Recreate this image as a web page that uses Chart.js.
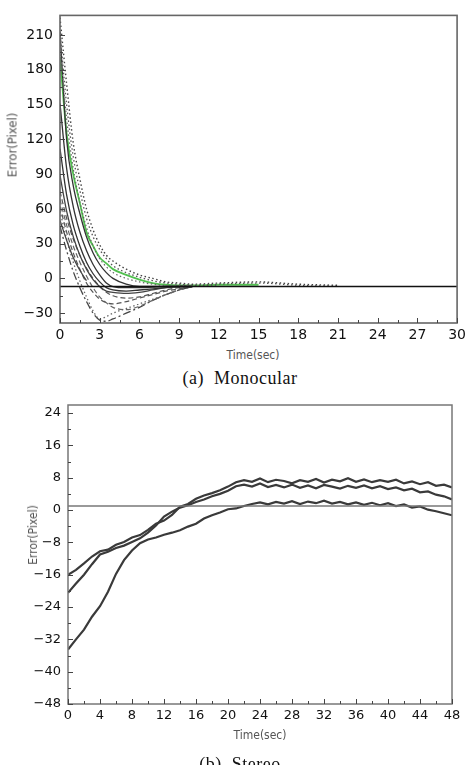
<!DOCTYPE html>
<html>
<head>
<meta charset="utf-8">
<script src="https://cdn.jsdelivr.net/npm/chart.js@4.4.1/dist/chart.umd.min.js"></script>
<style>
  html, body { margin: 0; padding: 0; background: #fff; }
  body { width: 470px; height: 765px; position: relative; overflow: hidden; }
  .wrap { position: absolute; left: 0; width: 470px; }
  .axt { position: absolute; color: #555; font-family: 'DejaVu Sans Condensed', 'DejaVu Sans', sans-serif; white-space: nowrap; transform: translate(-50%, -50%); }
  .rot { transform: translate(-50%, -50%) rotate(-90deg); }
  .cap { position: absolute; font-family: 'Liberation Serif', 'DejaVu Serif', serif; font-size: 18px; color: #111; white-space: pre; letter-spacing: 0.5px; transform: translate(-50%, -50%); }
</style>
</head>
<body>
<div class="wrap" style="top:0;height:345px;"><canvas id="mono" width="470" height="345"></canvas></div>
<div class="wrap" style="top:390px;height:345px;"><canvas id="stereo" width="470" height="345"></canvas></div>

<div class="axt rot" style="left:12px;top:145px;font-size:13px;">Error(Pixel)</div>
<div class="axt" style="left:253px;top:355px;font-size:12px;">Time(sec)</div>
<div class="cap" style="left:240px;top:378px;">(a)  Monocular</div>

<div class="axt rot" style="left:33px;top:535px;font-size:12px;">Error(Pixel)</div>
<div class="axt" style="left:260px;top:735px;font-size:12px;">Time(sec)</div>
<div class="cap" style="left:240px;top:764px;">(b)  Stereo</div>

<script>
const GREEN = '#52c150';
const INK   = '#333';
const DOT   = [1.5, 2.5];
const DASH  = [5, 3];
const DDOT  = [8, 3, 2, 3];

// (a) Monocular
const monoT      = [0, 0.5, 1, 1.5, 2, 2.5, 3, 3.5, 4, 5, 6, 7, 8, 9, 10, 12, 15, 18, 21];
const monoDot1   = [225, 168, 117, 86, 60, 42, 29, 20, 15, 8, 3, 0, -3, -4, -5, -4, -3, -5, -6];
const monoDot2   = [212, 150, 105, 76, 52, 36, 25, 17, 11, 5, 1, -2, -4, -5, -6, -5, -4, -6, -7];
const monoDot3   = [200, 138, 95, 66, 44, 28, 17, 10, 5, 0, -3, -5, -6, -6, -6, -6, null, null, null];
const monoGreen  = [191, 125, 90, 65, 40, 28, 18, 13, 8, 3, -1, -4, -5.5, -6, -6, -5.5, -5.5, null, null];
const monoSolid0 = [213, 120, 80, 56, 36, 22, 12, 5, 0, -5, -7, -7, -7, -7, -7, null, null, null, null];
const monoSolid1 = [151, 95, 62, 40, 24, 12, 3, -4, -7, -8, -8, -7.5, -7, -7, -7, null, null, null, null];
const monoSolid2 = [112, 72, 46, 28, 14, 4, -3, -8, -10, -11, -10, -9, -8, -7, -7, null, null, null, null];
const monoSolid3 = [89, 58, 36, 20, 8, -1, -7, -11, -12, -13, -12, -10, -8, -7, -7, null, null, null, null];
const monoSolid4 = [50, 33, 18, 7, -2, null, null, null, null, null, null, null, null, null, null, null, null, null, null];
const monoDash1  = [75, 52, 34, 20, 9, 0, -7, -12, -15, -17, -16, -13, -10, -8, -7, null, null, null, null];
const monoDash2  = [62, 40, 22, 8, -4, -12, -18, -21, -22, -20, -17, -14, -11, -9, -7, null, null, null, null];
const monoDash3  = [68, 46, 28, 14, 2, -8, -16, -21, -25, -27, -24, -19, -14, -10, -7, null, null, null, null];
const monoDeep   = [58, 34, 14, -2, -16, -28, -35, -33, -30, -26, -22, -18, -14, -10, -7, null, null, null, null];
const monoDDot   = [45, 24, 6, -8, -20, -30, -36, -37, -35, -30, -25, -19, -14, -10, -7, null, null, null, null];
const monoBase   = -7;
const monoXTicks = [0, 3, 6, 9, 12, 15, 18, 21, 24, 27, 30];
const monoYTicks = [210, 180, 150, 120, 90, 60, 30, 0, -30];

// (b) Stereo
const stereoT = [0, 1, 2, 3, 4, 5, 6, 7, 8, 9, 10, 11, 12, 13, 14, 15, 16, 17, 18, 19, 20, 21, 22, 23, 24,
                 25, 26, 27, 28, 29, 30, 31, 32, 33, 34, 35, 36, 37, 38, 39, 40, 41, 42, 43, 44, 45, 46, 47, 48];
const stereoA = [-16, -14.8, -13.2, -11.5, -10.2, -9.8, -8.6, -7.9, -6.8, -6.2, -4.9, -3.4, -2.6, -1.2, 0.8, 1.5, 2.8, 3.6, 4.2, 4.9, 5.8, 6.9, 7.4, 7.0, 7.8,
                 6.9, 7.5, 7.2, 6.6, 7.4, 7.0, 7.7, 6.8, 7.5, 7.1, 7.9, 7.0, 7.6, 6.9, 7.4, 7.0, 7.5, 6.6, 7.1, 6.4, 6.9, 6.0, 6.3, 5.6];
const stereoB = [-20.5, -18.2, -16.0, -13.4, -11.0, -10.3, -9.4, -8.8, -7.9, -7.0, -5.6, -3.8, -1.6, -0.4, 0.6, 1.2, 2.0, 2.6, 3.4, 4.0, 4.8, 5.9, 6.3, 5.8, 6.6,
                 5.7, 6.2, 5.6, 6.3, 5.5, 6.1, 5.4, 6.2, 5.8, 5.3, 6.0, 5.5, 6.1, 5.4, 5.9, 5.2, 5.6, 4.9, 5.3, 4.4, 4.6, 3.8, 3.4, 2.6];
const stereoC = [-34.5, -32.0, -29.6, -26.4, -23.8, -20.2, -15.8, -12.4, -10.0, -8.2, -7.3, -6.8, -6.1, -5.6, -5.0, -4.1, -3.4, -2.1, -1.3, -0.6, 0.2, 0.4, 1.0, 1.5, 1.9,
                 1.4, 2.0, 1.6, 2.2, 1.5, 2.1, 1.7, 2.3, 1.6, 2.0, 1.4, 1.9, 1.3, 1.8, 1.2, 1.7, 1.0, 1.4, 0.6, 0.9, 0.1, -0.3, -0.8, -1.3];
const stereoBase   = 1;
const stereoXTicks = [0, 4, 8, 12, 16, 20, 24, 28, 32, 36, 40, 44, 48];
const stereoYTicks = [24, 16, 8, 0, -8, -16, -24, -32, -40, -48];

function pts(xs, ys) {
  return xs.map((x, i) => ({ x, y: ys[i] })).filter(p => p.y !== null);
}

function line(data, color, width, dash, tension) {
  return { data, borderColor: color, borderWidth: width, borderDash: dash || [], pointRadius: 0,
           tension: tension || 0, cubicInterpolationMode: tension ? 'monotone' : 'default', fill: false };
}

const minus = v => v < 0 ? '\u2212' + Math.abs(v) : '' + v;

// box round the plot and short inward ticks
const frame = {
  id: 'frame',
  afterDatasetsDraw(chart, args, o) {
    const { ctx, chartArea: a, scales: { x, y } } = chart;
    ctx.save();
    ctx.strokeStyle = o.color;
    ctx.lineWidth = o.width;
    ctx.strokeRect(a.left, a.top, a.right - a.left, a.bottom - a.top);
    ctx.lineWidth = 1;
    ctx.strokeStyle = '#444';
    const xs = x.ticks.map(t => t.value), ys = y.ticks.map(t => t.value).sort((p, q) => p - q);
    const tick = (vals, len, fn) => vals.forEach(v => fn(v, len));
    const mids = vs => vs.slice(1).map((v, i) => (v + vs[i]) / 2);
    const xt = (v, len) => { const px = Math.round(x.getPixelForValue(v)) + 0.5; ctx.beginPath(); ctx.moveTo(px, a.bottom); ctx.lineTo(px, a.bottom - len); ctx.stroke(); };
    const yt = (v, len) => { const py = Math.round(y.getPixelForValue(v)) + 0.5; ctx.beginPath(); ctx.moveTo(a.left, py); ctx.lineTo(a.left + len, py); ctx.stroke(); };
    tick(xs, 5, xt); tick(mids(xs), 3, xt);
    tick(ys, 5, yt); tick(mids(ys), 3, yt);
    ctx.restore();
  }
};

function axes(xmin, xmax, xt, ymin, ymax, yt, yw, xh, font) {
  return {
    x: { type: 'linear', min: xmin, max: xmax, grid: { display: false, drawTicks: false }, border: { display: false },
         afterBuildTicks: s => { s.ticks = xt.map(v => ({ value: v })); },
         afterFit: s => { s.height = xh; },
         ticks: { autoSkip: false, maxRotation: 0, padding: 4, color: '#111', font: { family: 'DejaVu Sans', size: font }, callback: minus } },
    y: { type: 'linear', min: ymin, max: ymax, grid: { display: false, drawTicks: false }, border: { display: false },
         afterBuildTicks: s => { s.ticks = yt.map(v => ({ value: v })); },
         afterFit: s => { s.width = yw; },
         ticks: { autoSkip: false, padding: 7, color: '#111', font: { family: 'DejaVu Sans', size: font }, callback: minus } }
  };
}

new Chart(document.getElementById('mono'), {
  type: 'line',
  data: { datasets: [
    line(pts([0, 30], [monoBase, monoBase]), '#111', 1.3),
    line(pts(monoT, monoDot1), '#444', 1.4, DOT, 0.4),
    line(pts(monoT, monoDot2), '#555', 1.3, DOT, 0.4),
    line(pts(monoT, monoDot3), '#666', 1.2, DOT, 0.4),
    line(pts(monoT, monoSolid0), INK, 1.3, null, 0.4),
    line(pts(monoT, monoSolid1), INK, 1.3, null, 0.4),
    line(pts(monoT, monoSolid2), INK, 1.3, null, 0.4),
    line(pts(monoT, monoSolid3), '#444', 1.3, null, 0.4),
    line(pts(monoT, monoSolid4), '#444', 1.3, null, 0.4),
    line(pts(monoT, monoDash1), '#555', 1.2, DASH, 0.4),
    line(pts(monoT, monoDash2), '#555', 1.2, DASH, 0.4),
    line(pts(monoT, monoDash3), '#666', 1.2, DASH, 0.4),
    line(pts(monoT, monoDeep), '#666', 1.3, DOT, 0.4),
    line(pts(monoT, monoDDot), '#444', 1.3, DDOT, 0.4),
    line(pts(monoT, monoGreen), GREEN, 1.8, null, 0.4)
  ] },
  options: {
    responsive: false, animation: false,
    layout: { padding: { top: 11, right: 4, left: 0, bottom: 0 } },
    plugins: { legend: { display: false }, tooltip: { enabled: false }, frame: { color: '#666', width: 1.6 } },
    scales: axes(0, 30, monoXTicks, -38.5, 227, monoYTicks, 60, 22, 14)
  },
  plugins: [frame]
});

new Chart(document.getElementById('stereo'), {
  type: 'line',
  data: { datasets: [
    line(pts([0, 48], [stereoBase, stereoBase]), '#777', 1.5),
    line(pts(stereoT, stereoA), '#3a3a3a', 2.2),
    line(pts(stereoT, stereoB), '#3a3a3a', 2.2),
    line(pts(stereoT, stereoC), '#3a3a3a', 2.2)
  ] },
  options: {
    responsive: false, animation: false,
    layout: { padding: { top: 15, right: 18, left: 0, bottom: 0 } },
    plugins: { legend: { display: false }, tooltip: { enabled: false }, frame: { color: '#777', width: 1.5 } },
    scales: axes(0, 48, stereoXTicks, -48, 26, stereoYTicks, 68, 31, 13)
  },
  plugins: [frame]
});
</script>
</body>
</html>
